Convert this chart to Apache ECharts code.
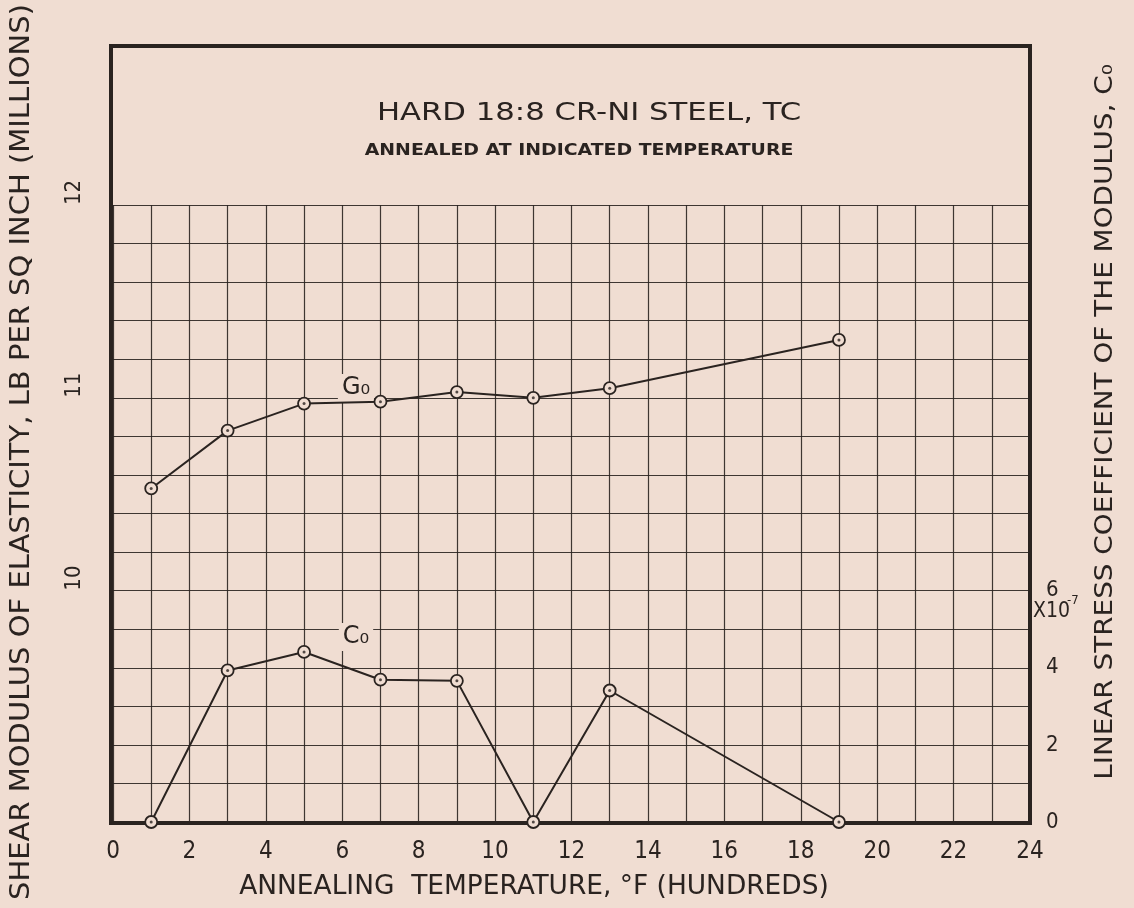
<!DOCTYPE html>
<html>
<head>
<meta charset="utf-8">
<script src="https://cdn.jsdelivr.net/npm/echarts@6/dist/echarts.min.js"></script>
<style>
html,body{margin:0;padding:0;background:#f0ddd2;}
#c{width:1134px;height:908px;}
</style>
</head>
<body>
<div id="c"></div>
<script>
// ---- data ----
var temperatures = [1, 3, 5, 7, 9, 11, 13, 19];           // annealing temperature, °F (hundreds)
var shearModulus = [10.53, 10.83, 10.97, 10.98, 11.03, 11.0, 11.05, 11.30]; // G0, millions psi
var stressCoeff = [0, 3.93, 4.41, 3.69, 3.66, 0, 3.41, 0]; // C0, x10^-7
var xTickLabels = [0, 2, 4, 6, 8, 10, 12, 14, 16, 18, 20, 22, 24];
var leftTickLabels = [10, 11, 12];
var rightTickLabels = [0, 2, 4, 6];

var BG = '#f0ddd2';
var INK = '#2a2320';
var FONT = "'DejaVu Sans', sans-serif";
var CFONT = "'DejaVu Sans Condensed', 'Liberation Sans Narrow', 'DejaVu Sans', sans-serif";

function pairs(xs, ys) { return xs.map(function (x, i) { return [x, ys[i]]; }); }
function near(v, list) { for (var i = 0; i < list.length; i++) { if (Math.abs(v - list[i]) < 1e-6) return true; } return false; }

var chart = echarts.init(document.getElementById('c'), null, {renderer: 'canvas'});

var markerStyle = {color: BG, borderColor: INK, borderWidth: 1.8};

var option = {
  backgroundColor: BG,
  animation: false,
  grid: {left: 113, right: 104, top: 205, bottom: 86, containLabel: false},
  xAxis: {
    type: 'value', min: 0, max: 24, interval: 1,
    axisLine: {show: false},
    axisTick: {show: false},
    splitLine: {show: true, lineStyle: {color: INK, width: 1.2, opacity: 0.9}},
    axisLabel: {
      margin: 18, color: INK, fontSize: 24, fontFamily: CFONT,
      formatter: function (v) { return near(v, xTickLabels) ? String(v) : ''; }
    }
  },
  yAxis: [
    {
      type: 'value', min: 8.8, max: 12, interval: 0.2, position: 'left',
      axisLine: {show: false}, axisTick: {show: false},
      splitLine: {show: true, lineStyle: {color: INK, width: 1.2, opacity: 0.9}},
      axisLabel: {
        rotate: 90, align: 'left', verticalAlign: 'bottom', margin: 28,
        color: INK, fontSize: 22, fontFamily: CFONT,
        formatter: function (v) { return near(v, leftTickLabels) ? String(Math.round(v)) : ''; }
      }
    },
    {
      type: 'value', min: 0, max: 16, interval: 1, position: 'right',
      axisLine: {show: false}, axisTick: {show: false},
      splitLine: {show: false},
      axisLabel: {
        margin: 16, color: INK, fontSize: 22, fontFamily: CFONT,
        formatter: function (v) { return near(v, rightTickLabels) ? String(Math.round(v)) : ''; }
      }
    }
  ],
  series: [
    {
      type: 'line', name: 'G0', yAxisIndex: 0, z: 5,
      data: pairs(temperatures, shearModulus),
      symbol: 'circle', symbolSize: 12, itemStyle: markerStyle,
      lineStyle: {color: INK, width: 2}
    },
    {
      type: 'scatter', yAxisIndex: 0, z: 6, silent: true,
      data: pairs(temperatures, shearModulus),
      symbol: 'circle', symbolSize: 3, itemStyle: {color: INK}
    },
    {
      type: 'line', name: 'C0', yAxisIndex: 1, z: 5,
      data: pairs(temperatures, stressCoeff),
      symbol: 'circle', symbolSize: 12, itemStyle: markerStyle,
      lineStyle: {color: INK, width: 2}
    },
    {
      type: 'scatter', yAxisIndex: 1, z: 6, silent: true,
      data: pairs(temperatures, stressCoeff),
      symbol: 'circle', symbolSize: 3, itemStyle: {color: INK}
    }
  ]
};
chart.setOption(option);

var p0 = chart.convertToPixel({xAxisIndex: 0, yAxisIndex: 0}, [0, 8.8]);
var p1 = chart.convertToPixel({xAxisIndex: 0, yAxisIndex: 0}, [24, 12]);
var frameTop = 46;

chart.setOption({
  graphic: [
    {
      type: 'rect', z: 3, silent: true,
      shape: {x: p0[0] - 2, y: frameTop, width: p1[0] - p0[0] + 2, height: p0[1] - frameTop + 1},
      style: {fill: null, stroke: INK, lineWidth: 4}
    },
    {
      type: 'text', z: 3, x: 589, y: 114, scaleX: 1.28,
      style: {text: 'HARD 18:8 CR-NI STEEL, TC', fill: INK, font: "normal 24px " + FONT, textAlign: 'center', textVerticalAlign: 'middle'}
    },
    {
      type: 'text', z: 3, x: 579, y: 151, scaleX: 1.18,
      style: {text: 'ANNEALED AT INDICATED TEMPERATURE', fill: INK, font: "bold 16px " + FONT, textAlign: 'center', textVerticalAlign: 'middle'}
    },
    {
      type: 'text', z: 4, x: 356, y: 388,
      style: {text: 'G\u2080', fill: INK, font: "normal 24px " + FONT, textAlign: 'center', textVerticalAlign: 'middle',
        backgroundColor: BG, padding: [2, 4, 2, 4]}
    },
    {
      type: 'text', z: 4, x: 356, y: 637,
      style: {text: 'C\u2080', fill: INK, font: "normal 24px " + FONT, textAlign: 'center', textVerticalAlign: 'middle',
        backgroundColor: BG, padding: [2, 4, 2, 4]}
    },
    {
      type: 'text', z: 3, x: 1033, y: 612,
      style: {text: 'X10', fill: INK, font: "normal 21px " + CFONT, textAlign: 'left', textVerticalAlign: 'middle'}
    },
    {
      type: 'text', z: 3, x: 1067, y: 601,
      style: {text: '-7', fill: INK, font: "normal 13px " + CFONT, textAlign: 'left', textVerticalAlign: 'middle'}
    },
    {
      type: 'text', z: 3, x: 534, y: 887, scaleX: 1.13,
      style: {text: 'ANNEALING  TEMPERATURE, \u00B0F (HUNDREDS)', fill: INK, font: "normal 26px " + CFONT, textAlign: 'center', textVerticalAlign: 'middle'}
    },
    {
      type: 'text', z: 3, x: 22, y: 452, rotation: Math.PI / 2, scaleX: 1.115,
      style: {text: 'SHEAR MODULUS OF ELASTICITY, LB PER SQ INCH (MILLIONS)', fill: INK, font: "normal 26px " + FONT, textAlign: 'center', textVerticalAlign: 'middle'}
    },
    {
      type: 'text', z: 3, x: 1106, y: 422, rotation: Math.PI / 2, scaleX: 1.16,
      style: {text: 'LINEAR STRESS COEFFICIENT OF THE MODULUS, C\u2080', fill: INK, font: "normal 24px " + FONT, textAlign: 'center', textVerticalAlign: 'middle'}
    }
  ]
});
</script>
</body>
</html>
